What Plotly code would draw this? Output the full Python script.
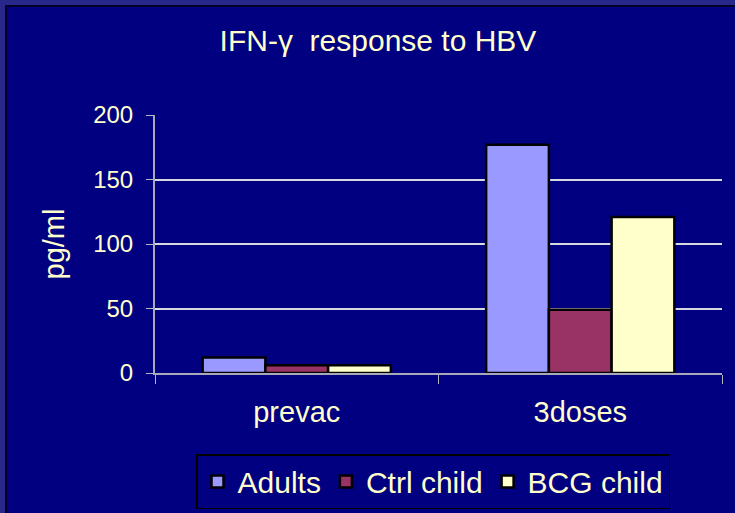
import plotly.graph_objects as go

categories = ["prevac", "3doses"]
adults = [12, 177]
ctrl_child = [6, 49]
bcg_child = [6, 121]
series_names = ["Adults", "Ctrl child", "BCG child"]
y_ticks = [0, 50, 100, 150, 200]

colors = ["#9999FF", "#993366", "#FFFFCC"]
text_color = "#FFFFCC"
font_family = "Liberation Sans, Arial, sans-serif"

fig = go.Figure()
for name, vals, col in zip(series_names, [adults, ctrl_child, bcg_child], colors):
    fig.add_trace(go.Bar(
        x=categories, y=vals, name=name,
        marker=dict(color=col, line=dict(color="black", width=2.5)),
    ))

W, H = 735, 513
L, R, T, B = 155, 13, 115, 140
pw, ph = W - L - R, H - T - B

def px_x(p):
    return (p - L) / pw

def px_y(p):
    return (H - B - p) / ph

shapes = [
    dict(type="rect", xref="paper", yref="paper", layer="below",
         x0=px_x(6), x1=px_x(760), y0=px_y(6), y1=px_y(540),
         fillcolor="#000080", line=dict(color="#000028", width=2)),
]

fig.update_layout(
    width=W, height=H,
    margin=dict(l=L, r=R, t=T, b=B, autoexpand=False),
    paper_bgcolor="#28288A",
    plot_bgcolor="#000080",
    barmode="group",
    bargap=0.336,
    bargroupgap=0,
    font=dict(family=font_family, color=text_color, size=24),
    title=dict(text="IFN-γ  response to HBV", x=px_x(378), xanchor="center", xref="paper",
               y=1 - 40 / H, yanchor="middle",
               font=dict(size=30, color=text_color, family=font_family)),
    xaxis=dict(
        showline=True, linecolor="#A8A8B8", linewidth=2,
        ticks="outside", tickson="boundaries", ticklen=9, tickcolor="#B8B8C0",
        tickfont=dict(size=29, color=text_color),
        ticklabelstandoff=12,
        showgrid=False, automargin=False,
    ),
    yaxis=dict(
        range=[0, 200], tickvals=y_ticks,
        showline=True, linecolor="#A8A8B8", linewidth=2,
        ticks="outside", ticklen=7, tickcolor="#B8B8C0",
        showgrid=True, gridcolor="#D8D8E0", gridwidth=1.5,
        zeroline=False, automargin=False,
        tickfont=dict(size=24, color=text_color),
        ticklabelstandoff=8,
        title=dict(text="pg/ml", font=dict(size=29, color=text_color), standoff=20),
    ),
    legend=dict(
        orientation="h", x=px_x(196), y=px_y(454), xanchor="left", yanchor="top",
        bordercolor="black", borderwidth=1.5, bgcolor="rgba(0,0,0,0)",
        font=dict(size=30, color=text_color), itemwidth=30,
        traceorder="normal",
    ),
    shapes=shapes,
)

fig.write_html("out.html", config={"displayModeBar": False},
               post_script="document.body.style.margin='0';")
